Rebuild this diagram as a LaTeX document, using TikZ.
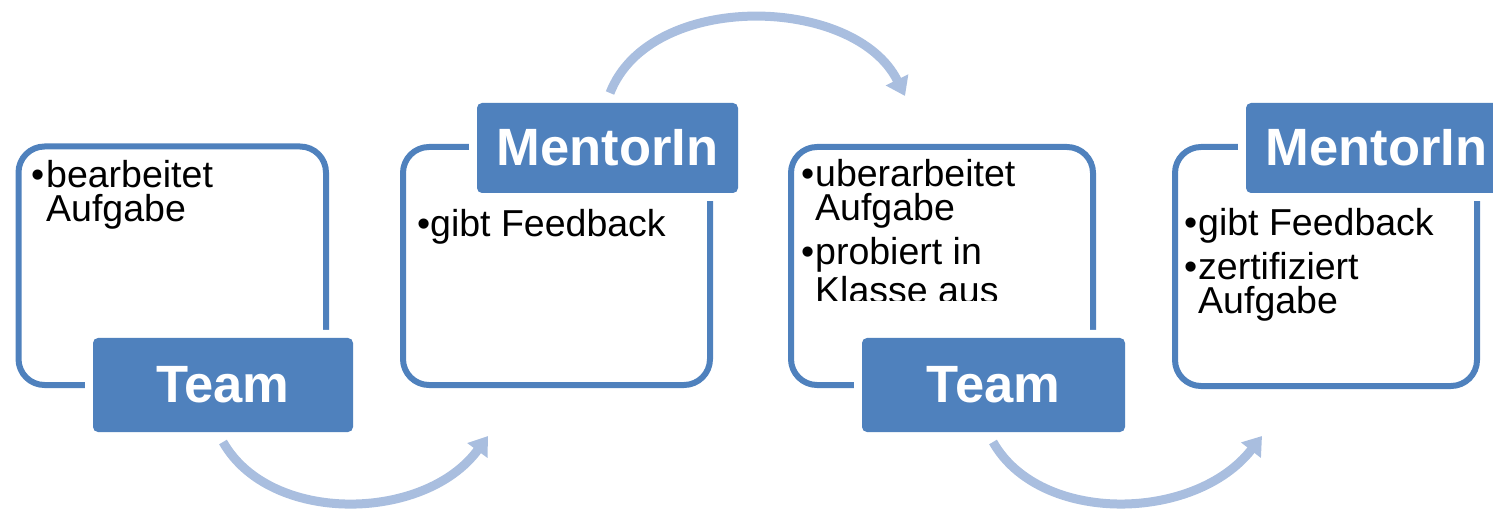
\documentclass[tikz,border=0pt]{standalone}
\usepackage{fontspec}
\setmainfont{Liberation Sans}
\usetikzlibrary{arrows.meta}
\definecolor{accblue}{HTML}{4F81BD}
\definecolor{arrblue}{HTML}{A9BEDF}
\begin{document}
\begin{tikzpicture}[x=1pt,y=-1pt,
  outl/.style={draw=accblue, line width=6pt, rounded corners=26pt, inner sep=0pt},
  lab/.style={fill=accblue, rounded corners=5pt, text=white,
    font=\fontsize{52.5}{60}\selectfont\bfseries,
    preaction={draw=white, fill=white, line width=16pt},
    minimum width=261pt, minimum height=92pt, inner sep=0pt},
  body/.style={anchor=base west, inner sep=0pt, text=black,
    font=\fontsize{37.5}{40}\selectfont},
  flow/.style={draw=arrblue, line width=9pt, -{Triangle[length=18pt,width=24pt]}}
]
\useasboundingbox (0,0) rectangle (1493,510);
\clip (0,0) rectangle (1493,510);

% outline boxes
\node[outl, minimum width=307.5pt, minimum height=238.5pt] (o1) at (172.25,265.75) {};
\node[outl, minimum width=307pt, minimum height=238pt] (o2) at (556.5,266) {};
\node[outl, minimum width=302pt, minimum height=238pt] (o3) at (942,266) {};
\node[outl, minimum width=302pt, minimum height=239pt] (o4) at (1326,266.5) {};

% labels
\node[lab, minimum width=260pt, minimum height=94pt] (l1) at (223,385) {Team};
\node[lab, minimum height=90pt] (l2) at (607.5,148) {MentorIn};
\node[lab, minimum width=263pt, minimum height=94pt] (l3) at (993.5,385) {Team};
\node[lab, minimum height=90pt] (l4) at (1376.5,148) {MentorIn};

% texts
\node[body] (t1a) at (31,188) {\makebox[15pt][l]{•}bearbeitet};
\node[body] (t1b) at (31,222) {\hspace*{15pt}Aufgabe};

\node[body] (t2a) at (417,237) {\makebox[13pt][l]{•}gibt Feedback};

\begin{scope}
\clip (795,150) rectangle (1090,300.5);
\node[body] (t3a) at (801,187) {\makebox[14pt][l]{•}uberarbeitet};
\node[body] (t3b) at (801,221) {\hspace*{14pt}Aufgabe};
\node[body] (t3c) at (801,265) {\makebox[14pt][l]{•}probiert in};
\node[body] (t3d) at (801,304) {\hspace*{14pt}Klasse aus};
\end{scope}

\node[body] (t4a) at (1184,236) {\makebox[14pt][l]{•}gibt Feedback};
\node[body] (t4b) at (1184,280) {\makebox[14pt][l]{•}zertifiziert};
\node[body] (t4c) at (1184,314) {\hspace*{14pt}Aufgabe};

% arrows
\coordinate (a1s) at (223,442);
\coordinate (a1e) at (488,436);
\coordinate (a2s) at (610,93);
\coordinate (a2e) at (905,96);
\coordinate (a3s) at (993,442);
\coordinate (a3e) at (1262,436);
\draw[flow] (a1s) .. controls (270,525) and (425,522) .. (a1e);
\draw[flow] (a2s) .. controls (650,-10) and (855,-5) .. (a2e);
\draw[flow] (a3s) .. controls (1040,525) and (1195,522) .. (a3e);
\end{tikzpicture}
\end{document}
